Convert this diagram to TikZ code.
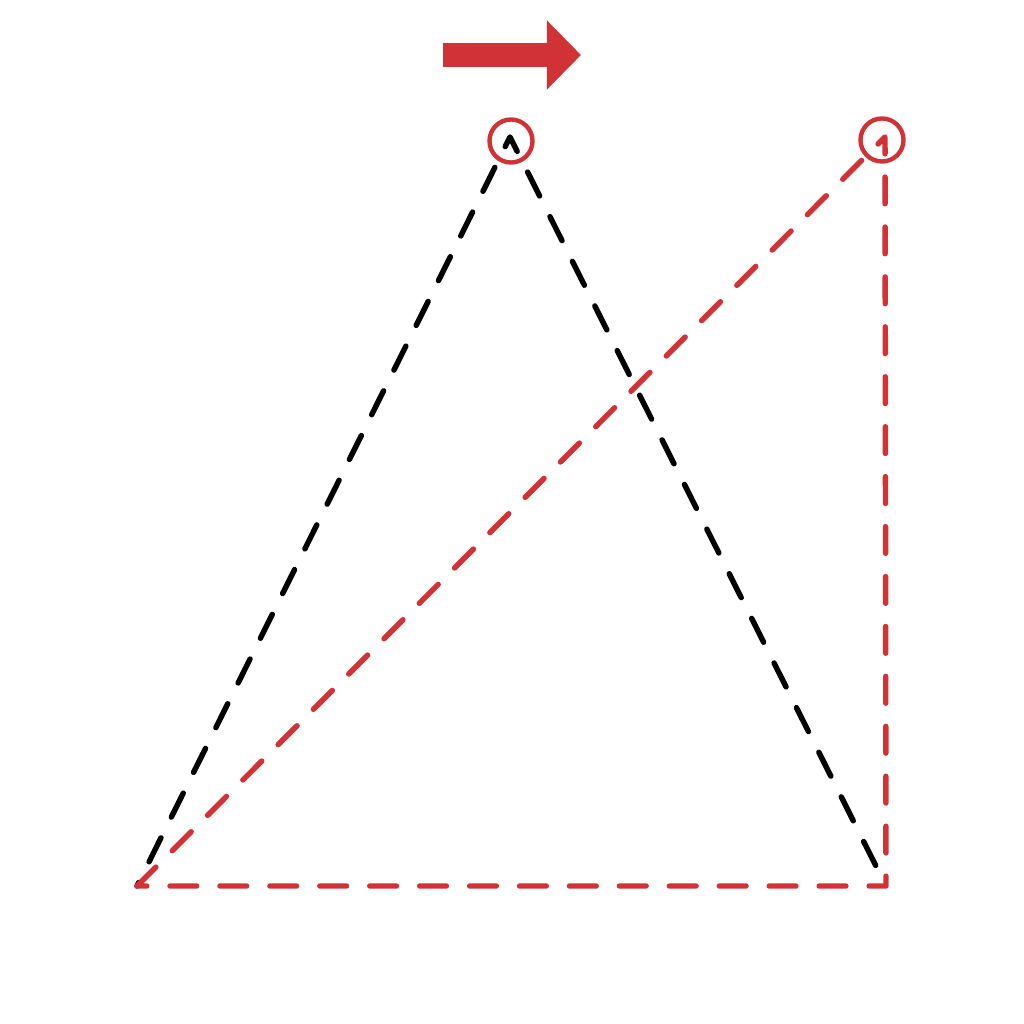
\documentclass[tikz,border=0pt]{standalone}
\usepackage{tikz}
\usepackage{xcolor}
\usetikzlibrary{arrows.meta,positioning}
\definecolor{markred}{RGB}{209,50,54}

\begin{document}
\begin{tikzpicture}[x=0.01cm, y=-0.01cm]
            \tikzstyle{ring} = [circle, draw=markred, line width=1.25pt, minimum size=0.43cm, inner sep=0pt]
            \tikzstyle{edge} = [line width=1.55pt, dash pattern=on 7.6pt off 6.6pt, line cap=round, line join=round]
            \tikzstyle{move} = [markred, line width=0.24cm, -{Triangle[length=0.34cm, width=0.67cm]}]

            \useasboundingbox (0,0) rectangle (1024,1024);

            % Corners
            \coordinate (bl) at (137,886);
            \coordinate (br) at (886,886);
            \coordinate (top) at (510,137);
            \coordinate (tr) at (885,137);

            % Markers
            \node [ring] (mtop) at (511,141) {};
            \node [ring] (mtr) at (882,140) {};

            % Direction
            \coordinate (mfrom) at (443,55);
            \coordinate (mto) at (581,55);
            \draw [move] (mfrom) -- (mto);

            % Triangles
            \draw [edge, black, dash phase=6.5pt] (bl) -- (top) -- (br);
            \draw [edge, markred] (bl) -- (tr) -- (br) -- cycle;
        \end{tikzpicture}
\end{document}
